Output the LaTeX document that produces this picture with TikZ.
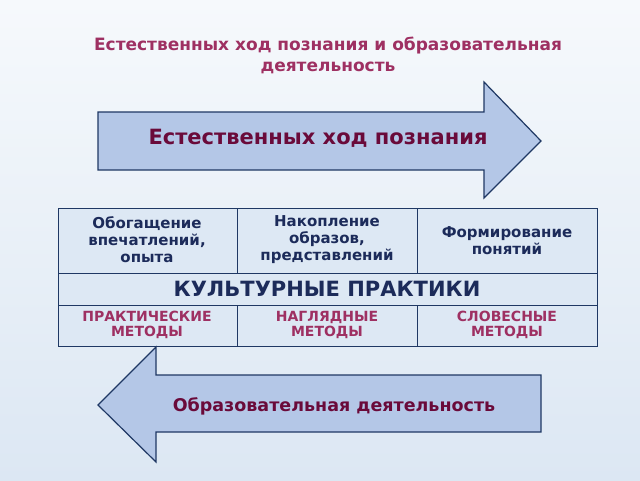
\documentclass[tikz,border=0pt]{standalone}
\usepackage{fontspec}
\setmainfont{DejaVu Sans}
\definecolor{bgtop}{HTML}{F6F9FC}
\definecolor{bgbot}{HTML}{DCE7F3}
\definecolor{arrowfill}{HTML}{B4C7E7}
\definecolor{arrowline}{HTML}{1F3864}
\definecolor{titlered}{HTML}{9E3062}
\definecolor{darkred}{HTML}{6A0A3A}
\definecolor{navy}{HTML}{1C2B5A}
\definecolor{cellfill}{HTML}{DDE8F4}
\tikzset{
  bigarrow/.style={draw=arrowline, line width=1.2pt, fill=arrowfill},
  cell/.style={draw=arrowline, line width=0.6pt, fill=cellfill},
  celltext/.style={font=\bfseries\fontsize{15}{17}\selectfont, text=navy, align=center},
  methodtext/.style={font=\bfseries\fontsize{14}{15}\selectfont, text=titlered, align=center}
}
\begin{document}
\begin{tikzpicture}[x=1pt,y=-1pt]
  % Background
  \shade[top color=bgtop, bottom color=bgbot] (0,0) rectangle (640,480);
  \useasboundingbox (0,0) rectangle (640,480);
  % Title
  \node[font=\bfseries\fontsize{17}{21}\selectfont, text=titlered, align=center] (title) at (328,55)
    {Естественных ход познания и образовательная\\деятельность};
  % Upper arrow
  \draw[bigarrow] (98,112) -- (484,112) -- (484,82) -- (541,141) -- (484,198) -- (484,170) -- (98,170) -- cycle;
  \node[font=\bfseries\fontsize{21}{24}\selectfont, text=darkred] (upper) at (318,138) {Естественных ход познания};
  % Table
  \draw[cell] (58,208) rectangle (597,346);
  \draw[arrowline, line width=0.6pt] (58,273) -- (597,273);
  \draw[arrowline, line width=0.6pt] (58,305) -- (597,305);
  \foreach \x in {237,417} {
    \draw[arrowline, line width=0.6pt] (\x,208) -- (\x,273);
    \draw[arrowline, line width=0.6pt] (\x,305) -- (\x,346);
  }
  \node[celltext] (c1) at (147,240) {Обогащение\\впечатлений,\\опыта};
  \node[celltext] (c2) at (327,240) {Накопление\\образов,\\представлений};
  \node[celltext] (c3) at (507,241) {Формирование\\понятий};
  \node[font=\bfseries\fontsize{21}{24}\selectfont, text=navy] (practices) at (327,289) {КУЛЬТУРНЫЕ ПРАКТИКИ};
  \node[methodtext] (m1) at (147,325) {ПРАКТИЧЕСКИЕ\\МЕТОДЫ};
  \node[methodtext] (m2) at (327,325) {НАГЛЯДНЫЕ\\МЕТОДЫ};
  \node[methodtext] (m3) at (507,325) {СЛОВЕСНЫЕ\\МЕТОДЫ};
  % Lower arrow
  \draw[bigarrow] (98,405) -- (156,347) -- (156,375) -- (541,375) -- (541,432) -- (156,432) -- (156,462) -- cycle;
  \node[font=\bfseries\fontsize{17.5}{20}\selectfont, text=darkred] (lower) at (334,406) {Образовательная деятельность};
\end{tikzpicture}
\end{document}
